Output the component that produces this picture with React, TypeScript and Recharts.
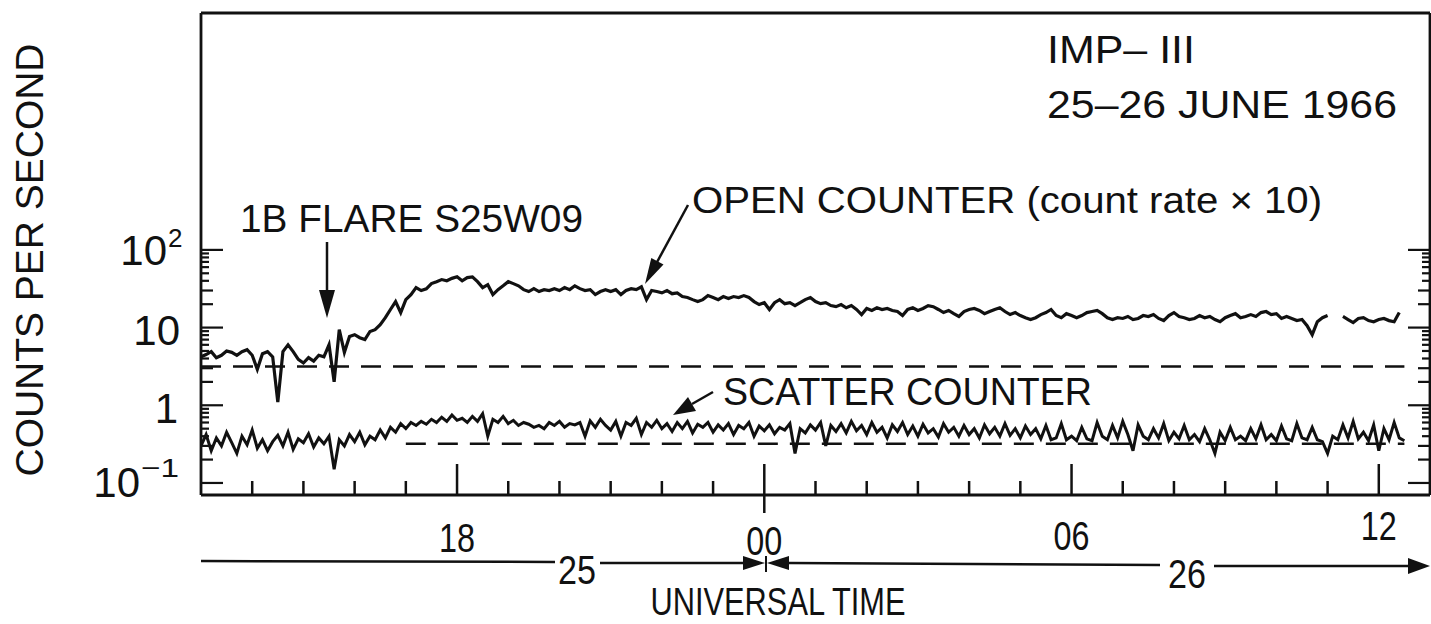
// IMP-III counting rates, 25-26 June 1966 - Recharts line chart
import { LineChart, Line, XAxis, YAxis, ReferenceLine } from 'recharts';

// readings every 0.1 h, hours counted from 00 UT on 25 June
const START_HOUR = 13;
const STEP_HOURS = 0.1;

// open counter (count rate x 10), counts per second; null = no data
const OPEN_COUNTER = [
    4.2, 4.5, 4.9, 4.1, 4.4, 5.0, 4.8, 4.4, 4.9, 5.2,
    4.4, 2.9, 4.6, 4.9, 4.2, 1.1, 4.9, 6.0, 4.9, 3.9,
    3.5, 4.1, 3.7, 4.4, 4.2, 6.0, 2.0, 9.4, 4.8, 7.7,
    8.1, 7.4, 7.0, 8.9, 9.4, 10.9, 13.4, 17.1, 21.6, 15.6,
    22.9, 26.6, 32.7, 30, 31.5, 36.8, 39, 41.5, 40, 43,
    45, 40, 44, 45, 39, 32.7, 35.7, 26.6, 30.8, 34.5,
    39, 36.8, 34.5, 30.8, 29.1, 31.7, 29.1, 30.8, 30, 31.7,
    30, 32.7, 30.8, 34.5, 31.7, 30, 30.8, 26.6, 29.1, 30.8,
    29.1, 30.8, 26.6, 30, 31.7, 30.8, 33.5, 22.9, 30, 29.1,
    28, 30, 27.3, 28, 25.1, 24.4, 22.9, 21.6, 22.9, 25.8,
    24.4, 22.9, 25.1, 23.7, 25.1, 24.4, 25.8, 24.4, 21.6, 19.8,
    20.9, 17.1, 20.9, 22.9, 20.3, 20.9, 19.2, 20.9, 22.9, 24.4,
    21.6, 20.3, 20.9, 19.2, 18.6, 19.8, 18, 19.2, 17.1, 14.7,
    17.6, 16.6, 18, 17.1, 17.6, 16.6, 16.1, 14.3, 17.1, 18,
    16.6, 17.6, 19.2, 18.6, 17.1, 15.6, 16.6, 15.1, 13.9, 16.1,
    17.1, 17.6, 16.6, 15.1, 16.1, 17.1, 18, 16.1, 14.7, 15.6,
    14.3, 13.4, 12.7, 13.4, 14.7, 15.6, 17.1, 14.3, 13.4, 15.1,
    14.3, 13.4, 14.3, 15.6, 16.1, 16.6, 15.1, 13.4, 12.7, 13.4,
    13.1, 13.9, 12.7, 13.1, 14.3, 13.9, 14.7, 13.1, 12.3, 14.3,
    15.6, 13.9, 13.4, 12.7, 13.1, 14.3, 13.4, 13.9, 12.7, 11.9,
    13.4, 14.3, 15.1, 13.4, 13.9, 14.7, 13.9, 15.6, 16.1, 14.7,
    15.1, 13.1, 13.9, 13.1, 12.3, 12.7, 10.6, 8.1, 11.9, 13.4,
    14.3, null, null, 13.9, 12.7, 11.6, 13.1, 13.4, 12.3, 11.9,
    12.7, 13.1, 12.3, 11.9, 15.6, null,
];

// scatter counter, counts per second
const SCATTER_COUNTER = [
    0.30, 0.42, 0.26, 0.38, 0.30, 0.45, 0.33, 0.24, 0.40, 0.31,
    0.48, 0.28, 0.36, 0.26, 0.34, 0.41, 0.30, 0.45, 0.27, 0.37,
    0.33, 0.43, 0.29, 0.38, 0.32, 0.40, 0.15, 0.36, 0.30, 0.42,
    0.34, 0.45, 0.31, 0.40, 0.36, 0.48, 0.38, 0.52, 0.45, 0.58,
    0.50, 0.60, 0.55, 0.62, 0.57, 0.66, 0.60, 0.70, 0.62, 0.75,
    0.64, 0.68, 0.60, 0.72, 0.62, 0.78, 0.40, 0.66, 0.60, 0.72,
    0.58, 0.64, 0.55, 0.60, 0.57, 0.52, 0.55, 0.50, 0.60, 0.55,
    0.62, 0.52, 0.58, 0.56, 0.60, 0.40, 0.63, 0.52, 0.66, 0.55,
    0.48, 0.62, 0.40, 0.60, 0.55, 0.68, 0.42, 0.60, 0.52, 0.64,
    0.50, 0.58, 0.46, 0.60, 0.50, 0.62, 0.44, 0.57, 0.52, 0.60,
    0.45, 0.56, 0.48, 0.58, 0.42, 0.55, 0.50, 0.60, 0.40, 0.54,
    0.47, 0.56, 0.43, 0.52, 0.48, 0.58, 0.24, 0.50, 0.44, 0.56,
    0.48, 0.60, 0.30, 0.55, 0.46, 0.58, 0.44, 0.62, 0.47, 0.55,
    0.42, 0.60, 0.45, 0.52, 0.38, 0.56, 0.46, 0.60, 0.42, 0.54,
    0.40, 0.57, 0.44, 0.50, 0.39, 0.58, 0.45, 0.52, 0.40, 0.55,
    0.42, 0.50, 0.38, 0.56, 0.43, 0.52, 0.40, 0.58, 0.41, 0.50,
    0.38, 0.54, 0.42, 0.50, 0.37, 0.55, 0.36, 0.38, 0.58, 0.36,
    0.40, 0.35, 0.52, 0.37, 0.35, 0.60, 0.40, 0.36, 0.55, 0.38,
    0.62, 0.42, 0.26, 0.56, 0.40, 0.36, 0.50, 0.38, 0.58, 0.35,
    0.45, 0.37, 0.55, 0.36, 0.42, 0.34, 0.50, 0.36, 0.24, 0.45,
    0.35, 0.52, 0.36, 0.40, 0.35, 0.50, 0.37, 0.56, 0.36, 0.42,
    0.35, 0.54, 0.37, 0.35, 0.58, 0.38, 0.36, 0.52, 0.36, 0.34,
    0.24, 0.40, 0.36, 0.56, 0.38, 0.62, 0.37, 0.45, 0.35, 0.56,
    0.26, 0.50, 0.36, 0.60, 0.38, 0.35,
];

// background levels (dashed)
const OPEN_BACKGROUND = 3.15;
const SCATTER_BACKGROUND = 0.32;

const HOUR_TICKS = [14, 15, 16, 17, 18, 19, 20, 21, 22, 23, 24, 25, 26, 27, 28, 29, 30, 31, 32, 33, 34, 35, 36];
const HOUR_LABELS: Record<number, string> = { 18: '18', 24: '00', 30: '06', 36: '12' };
const DECADES = [0.1, 1, 10, 100];
const COUNT_TICKS = [
    0.1, 0.2, 0.3, 0.4, 0.5, 0.6, 0.7, 0.8, 0.9,
    1, 2, 3, 4, 5, 6, 7, 8, 9,
    10, 20, 30, 40, 50, 60, 70, 80, 90,
    100,
];

const INK = '#111';
const FONT = '"Liberation Sans", Arial, sans-serif';

const rows = OPEN_COUNTER.map((open, i) => ({
    hour: Math.round((START_HOUR + i * STEP_HOURS) * 10) / 10,
    open,
    scatter: SCATTER_COUNTER[i],
}));

// baseline of each time label (the scan is a little tilted)
const HOUR_LABEL_Y: Record<number, number> = { 18: 552, 24: 555, 30: 550, 36: 540 };

function TimeTick(props: any) {
    const { x, y, payload } = props;
    const h = payload.value;
    const major = h % 6 === 0;
    return (
        <g>
            <line x1={x} x2={x} y1={y} y2={y - (major ? 31 : 14)} stroke={INK} strokeWidth={2.5} />
            {h === 24 && <line x1={x} x2={x} y1={y} y2={y + 18} stroke={INK} strokeWidth={2.5} />}
            {major && (
                <text x={x} y={HOUR_LABEL_Y[h]} textAnchor="middle" fontSize={40} fill={INK} fontFamily={FONT}
                    textLength={36} lengthAdjust="spacingAndGlyphs">
                    {HOUR_LABELS[h]}
                </text>
            )}
        </g>
    );
}

function tickLength(v: number) {
    if (DECADES.includes(v)) return 22;
    const lead = Math.round(v / Math.pow(10, Math.floor(Math.log10(v) + 1e-9)));
    return lead === 2 || lead === 3 ? 12 : 8;
}

function CountTick(props: any) {
    const { x, y, payload } = props;
    const v = payload.value;
    const len = tickLength(v);
    const text = { fill: INK, fontFamily: FONT } as const;
    return (
        <g>
            <line x1={x} x2={x + len} y1={y} y2={y} stroke={INK} strokeWidth={2.2} />
            {v === 100 && (
                <>
                    <text x={x - 34} y={y + 15} textAnchor="end" fontSize={42} {...text}>10</text>
                    <text x={x - 33} y={y - 3} fontSize={26} {...text}>2</text>
                </>
            )}
            {v === 10 && <text x={x - 21} y={y + 17} textAnchor="end" fontSize={42} {...text}>10</text>}
            {v === 1 && <text x={x - 23} y={y + 18} textAnchor="end" fontSize={42} {...text}>1</text>}
            {v === 0.1 && (
                <>
                    <text x={x - 61} y={y + 14} textAnchor="end" fontSize={42} {...text}>10</text>
                    <text x={x - 60} y={y - 6} fontSize={26} textLength={38} lengthAdjust="spacingAndGlyphs" {...text}>−1</text>
                </>
            )}
        </g>
    );
}

function RightTick(props: any) {
    const { x, y, payload } = props;
    const len = tickLength(payload.value);
    return <line x1={x} x2={x - len} y1={y} y2={y} stroke={INK} strokeWidth={2.2} />;
}

function Annotations() {
    const t = { fill: INK, fontFamily: FONT, lengthAdjust: 'spacingAndGlyphs' } as const;
    return (
        <svg width={1431} height={624} style={{ position: 'absolute', left: 0, top: 0, pointerEvents: 'none' }}>
            <text transform="translate(43 260) rotate(-90)" textAnchor="middle" fontSize={39} textLength={433} {...t}>
                COUNTS PER SECOND
            </text>
            <text x={1047} y={63} fontSize={39} textLength={148} {...t}>IMP– III</text>
            <text x={1047} y={118} fontSize={39} textLength={350} {...t}>25–26 JUNE 1966</text>
            <text x={240} y={232} fontSize={39} textLength={343} {...t}>1B FLARE S25W09</text>
            <text x={692} y={213} fontSize={37} textLength={630} {...t}>OPEN COUNTER (count rate × 10)</text>
            <text x={723} y={405} fontSize={39} textLength={369} {...t}>SCATTER COUNTER</text>

            {/* flare arrow */}
            <line x1={327} y1={242} x2={327} y2={296} stroke={INK} strokeWidth={2.5} />
            <polygon points="319,290 335,290 327,318" fill={INK} />
            {/* open counter arrow */}
            <line x1={688} y1={205} x2={656} y2={264} stroke={INK} strokeWidth={2.5} />
            <polygon points="645,284 663.5,264.5 651.3,257.9" fill={INK} />
            {/* scatter counter arrow */}
            <line x1={713} y1={392} x2={692} y2={404} stroke={INK} strokeWidth={2.5} />
            <polygon points="673,415 696,411 688,397" fill={INK} />

            {/* universal time bar */}
            <line x1={201} y1={561} x2={555} y2={562} stroke={INK} strokeWidth={2.5} />
            <text x={577} y={584} textAnchor="middle" fontSize={40} textLength={38} {...t}>25</text>
            <line x1={600} y1={563} x2={750} y2={563} stroke={INK} strokeWidth={2.5} />
            <polygon points="765,563 743,556 743,570" fill={INK} />
            <polygon points="767,563 789,556 789,570" fill={INK} />
            <line x1={766} y1={556} x2={766} y2={572} stroke={INK} strokeWidth={2} />
            <line x1={789} y1={563} x2={1160} y2={565} stroke={INK} strokeWidth={2.5} />
            <text x={1187} y={588} textAnchor="middle" fontSize={40} textLength={38} {...t}>26</text>
            <line x1={1214} y1={566} x2={1412} y2={566} stroke={INK} strokeWidth={2.5} />
            <polygon points="1430,566 1408,558 1408,574" fill={INK} />
            <text x={778} y={615} textAnchor="middle" fontSize={38} textLength={255} {...t}>UNIVERSAL TIME</text>
        </svg>
    );
}

export default function App() {
    return (
        <div style={{ position: 'absolute', left: 0, top: 0, width: 1431, height: 624, background: '#fff' }}>
            <LineChart width={1431} height={624} data={rows} margin={{ top: 12, right: 0, bottom: 99, left: 141 }}>
                <XAxis dataKey="hour" type="number" domain={[13, 37]} ticks={HOUR_TICKS} interval={0}
                    height={30} tickSize={0} tickMargin={0} tickLine={false} tick={<TimeTick />}
                    axisLine={{ stroke: INK, strokeWidth: 2.8 }} allowDataOverflow />
                <XAxis xAxisId="top" orientation="top" type="number" domain={[13, 37]} height={1}
                    tick={false} tickLine={false} axisLine={{ stroke: INK, strokeWidth: 2.8 }} allowDataOverflow />
                <YAxis type="number" scale="log" domain={[0.07, 112000]} ticks={COUNT_TICKS} interval={0}
                    width={60} tickSize={0} tickMargin={0} tickLine={false} tick={<CountTick />}
                    axisLine={{ stroke: INK, strokeWidth: 2.8 }} allowDataOverflow />
                <YAxis yAxisId="right" orientation="right" type="number" scale="log" domain={[0.07, 112000]}
                    ticks={COUNT_TICKS} interval={0} width={1} tickSize={0} tickMargin={0} tickLine={false}
                    tick={<RightTick />} axisLine={{ stroke: INK, strokeWidth: 2.8 }} allowDataOverflow />

                <ReferenceLine segment={[{ x: 13, y: OPEN_BACKGROUND }, { x: 36.5, y: OPEN_BACKGROUND }]}
                    stroke={INK} strokeWidth={2.6} strokeDasharray="20 12" />
                <ReferenceLine segment={[{ x: 17, y: SCATTER_BACKGROUND }, { x: 36.5, y: SCATTER_BACKGROUND }]}
                    stroke={INK} strokeWidth={2.6} strokeDasharray="20 12" />

                <Line dataKey="open" type="linear" stroke={INK} strokeWidth={3.2} dot={false}
                    connectNulls={false} isAnimationActive={false} />
                <Line dataKey="scatter" type="linear" stroke={INK} strokeWidth={3} dot={false}
                    isAnimationActive={false} />
            </LineChart>
            <Annotations />
        </div>
    );
}
